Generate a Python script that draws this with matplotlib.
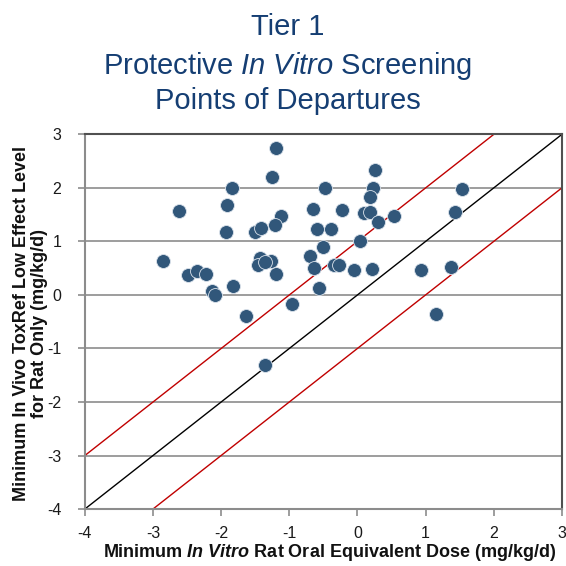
import matplotlib
matplotlib.use("Agg")
import matplotlib.pyplot as plt
import numpy as np

plt.rcParams.update({
    'font.family': ['Liberation Sans', 'DejaVu Sans'],
    'mathtext.fontset': 'custom',
    'mathtext.rm': 'Liberation Sans',
    'mathtext.it': 'Liberation Sans:italic',
    'mathtext.bf': 'Liberation Sans:bold',
    'mathtext.bfit': 'Liberation Sans:italic:bold',
    'axes.unicode_minus': False,
})

# Data: (in vitro equivalent dose, in vivo LEL), log10 mg/kg/d
x_vals = [-1.20, -1.25, -1.84, -0.48, -2.62, -1.91, -1.12, -0.65, -1.93, -1.50,
          -1.41, -1.21, -0.60, -0.39, -0.50, -2.86, -2.48, -2.35, -2.22, -1.43,
          -1.46, -1.27, -1.35, -1.19, -0.70, -0.63, -0.57, -1.83, -2.14, -2.09,
          -0.96, -1.64, 0.26, 0.23, 0.19, 1.54, -0.22, 0.09, 0.19, 0.54,
          1.43, 0.30, 0.04, -0.35, -0.27, -0.05, 0.21, 0.94, 1.37, 1.16, -1.35]
y_vals = [2.75, 2.20, 2.00, 2.00, 1.57, 1.68, 1.48, 1.60, 1.17, 1.17,
          1.25, 1.30, 1.23, 1.23, 0.90, 0.64, 0.37, 0.44, 0.39, 0.70,
          0.56, 0.64, 0.62, 0.39, 0.73, 0.50, 0.14, 0.17, 0.08, 0.00,
          -0.16, -0.40, 2.34, 2.00, 1.84, 1.99, 1.59, 1.54, 1.56, 1.48,
          1.55, 1.36, 1.00, 0.56, 0.56, 0.47, 0.49, 0.47, 0.53, -0.35, -1.31]
line_offsets = [0, 1, -1]  # y = x + offset
line_colors = ['black', '#C00000', '#C00000']
ticks = [-4, -3, -2, -1, 0, 1, 2, 3]

fig = plt.figure(figsize=(5.66, 5.66), dpi=100)
ax = fig.add_axes([0.150, 0.1007, 0.8425, 0.6617])

lx = np.array([-4, 3])
for off, c in zip(line_offsets, line_colors):
    ax.plot(lx, lx + off, color=c, lw=1.0, zorder=2)

ax.scatter(x_vals, y_vals, s=100, color='#31577A', edgecolors='#dbe3ec',
           linewidths=0.6, zorder=3)

ax.set_xlim(-4, 3)
ax.set_ylim(-4, 3)
ax.set_xticks(ticks)
ax.set_yticks(ticks)
ax.yaxis.grid(True, color='#8c8c8c', lw=1.2)
ax.set_axisbelow(True)
ax.tick_params(direction='out', length=5, width=1.2, color='#8c8c8c',
               labelsize=11.5, labelcolor='#1a1a1a')
ax.tick_params(axis='y', pad=12)
ax.tick_params(axis='x', pad=7)
for s in ['left', 'bottom']:
    ax.spines[s].set_color('#8c8c8c')
    ax.spines[s].set_linewidth(1.5)
for s in ['top', 'right']:
    ax.spines[s].set_color('#505050')
    ax.spines[s].set_linewidth(1.5)

fig.text(0.583, 0.023,
         r'Minimum $\mathbfit{In\ Vitro}$ Rat Oral Equivalent Dose (mg/kg/d)',
         ha='center', va='center', fontsize=13, fontweight='bold', color='#111111')
fig.text(0.054, 0.4276,
         'Minimum In Vivo ToxRef Low Effect Level\nfor Rat Only (mg/kg/d)',
         ha='center', va='center', rotation=90, multialignment='center',
         fontsize=13, fontweight='bold', linespacing=1.05, color='#111111')

tc = '#153E73'
fig.text(0.508, 0.977, 'Tier 1', ha='center', va='top', fontsize=21, color=tc)
fig.text(0.508, 0.912, r'Protective $\mathit{In\ Vitro}$ Screening', ha='center',
         va='top', fontsize=21, color=tc)
fig.text(0.508, 0.847, 'Points of Departures', ha='center', va='top',
         fontsize=21, color=tc)

fig.savefig('out.png', dpi=100)
